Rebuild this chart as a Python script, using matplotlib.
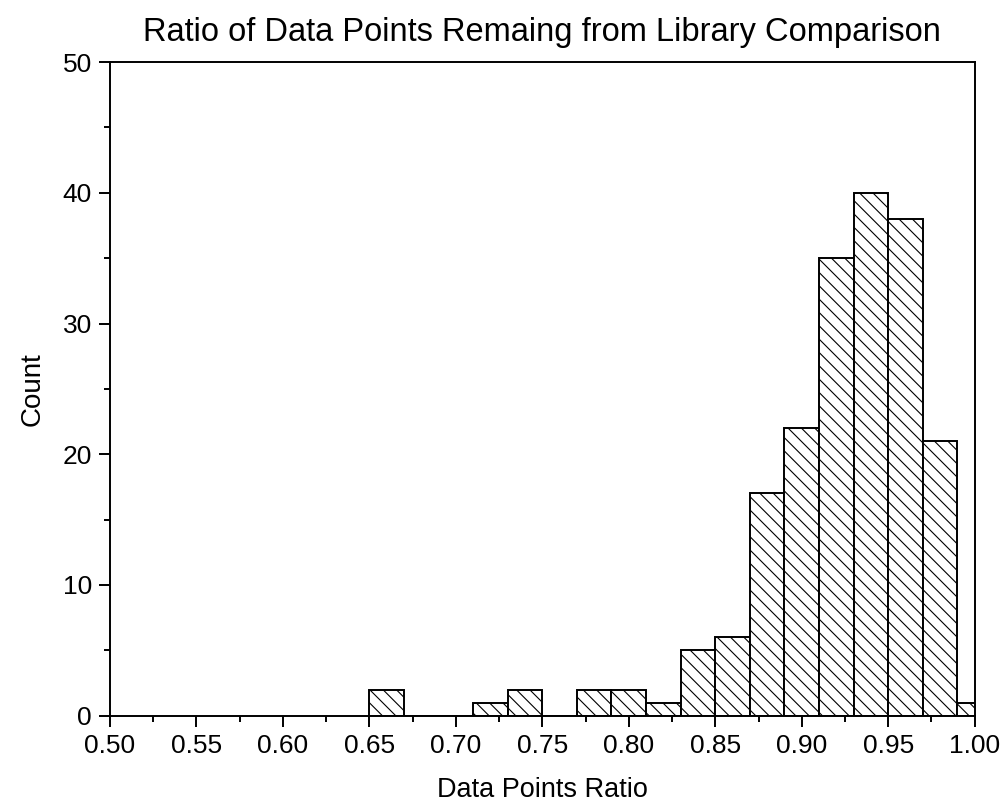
import matplotlib.pyplot as plt
from matplotlib.ticker import MultipleLocator

plt.rcParams['font.family'] = ['Liberation Sans', 'DejaVu Sans']

# histogram bins (width 0.02) and their counts
bin_left = [0.65, 0.67, 0.69, 0.71, 0.73, 0.75, 0.77, 0.79, 0.81,
            0.83, 0.85, 0.87, 0.89, 0.91, 0.93, 0.95, 0.97, 0.99]
counts = [2, 0, 0, 1, 2, 0, 2, 2, 1,
          5, 6, 17, 22, 35, 40, 38, 21, 1]
bin_width = 0.02

x_ticks = [0.50, 0.55, 0.60, 0.65, 0.70, 0.75, 0.80, 0.85, 0.90, 0.95, 1.00]
y_ticks = [0, 10, 20, 30, 40, 50]

# drawn at 80 dpi so the hatch comes out denser; sizes given in pixels / 100 dpi
DPI = 80
S = 100 / DPI

plt.rcParams['hatch.linewidth'] = 0.8 * S

fig = plt.figure(figsize=(1008 / DPI, 806 / DPI), dpi=DPI)
ax = fig.add_axes([0.109, 0.112, 0.858, 0.811])

ax.bar(bin_left, counts, width=bin_width, align='edge', facecolor='white',
       edgecolor='black', linewidth=1.4 * S, hatch='\\\\')

ax.set_xlim(0.5, 1.0)
ax.set_ylim(0, 50)
ax.set_xticks(x_ticks)
ax.set_xticklabels([f'{t:.2f}' for t in x_ticks])
ax.set_yticks(y_ticks)
ax.xaxis.set_minor_locator(MultipleLocator(0.025))
ax.yaxis.set_minor_locator(MultipleLocator(5))

ax.tick_params(which='major', direction='out', length=8 * S, width=1.4 * S,
               labelsize=19 * S, pad=5 * S, top=False, right=False)
ax.tick_params(which='minor', direction='out', length=4 * S, width=1.4 * S,
               top=False, right=False)
for s in ax.spines.values():
    s.set_linewidth(1.4 * S)

ax.set_xlabel('Data Points Ratio', fontsize=19.5 * S, labelpad=14 * S)
ax.set_ylabel('Count', fontsize=20 * S, labelpad=12 * S)
ax.set_title('Ratio of Data Points Remaing from Library Comparison',
             fontsize=23.5 * S, pad=15 * S)

fig.savefig('out.png', dpi=DPI)
